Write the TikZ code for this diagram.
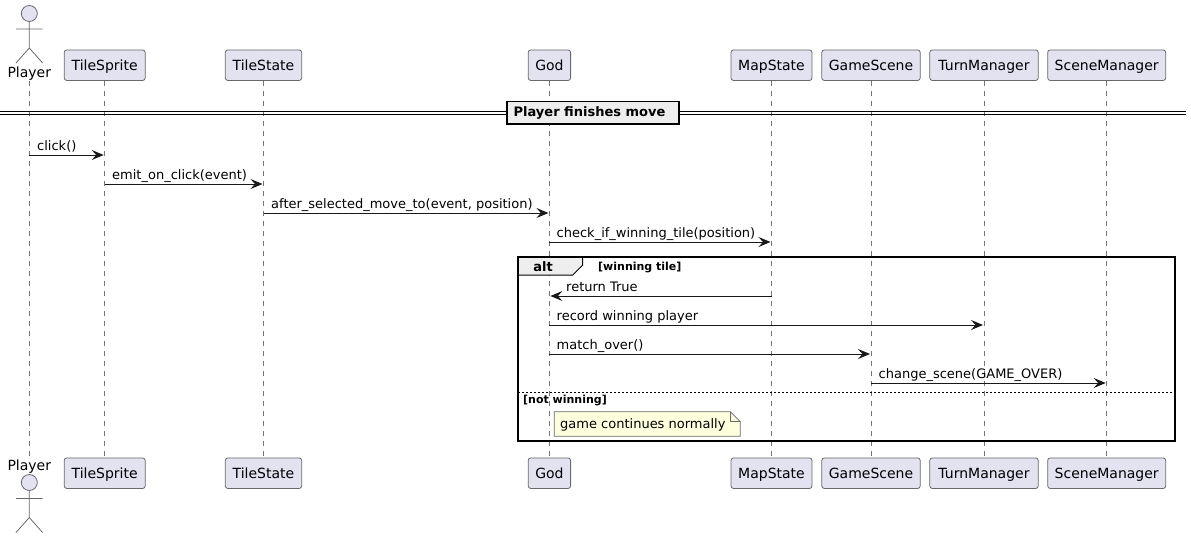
\documentclass[tikz,border=0pt]{standalone}
\usepackage{fontspec}
\setmainfont{DejaVu Sans}
\usetikzlibrary{arrows.meta}
\definecolor{partfill}{HTML}{E2E2F0}
\definecolor{partline}{HTML}{181818}
\definecolor{notefill}{HTML}{FEFFDD}
\definecolor{tabfill}{HTML}{EEEEEE}

\begin{document}
\begin{tikzpicture}[x=1pt, y=-1pt, font=\fontsize{13}{15}\selectfont,
    part/.style={rectangle, rounded corners=2.5pt, draw=partline!65, fill=partfill,
      line width=0.8pt, minimum height=30.5pt, inner sep=0pt, text=black,
      text height=12.6pt, text depth=3pt, font=\fontsize{14}{16}\selectfont},
    actorlabel/.style={minimum height=16pt, inner sep=0pt, text=black,
      text height=12.6pt, text depth=3pt, font=\fontsize{14}{16}\selectfont},
    stick/.style={draw=partline!65, line width=0.8pt},
    life/.style={draw=partline!60, line width=0.8pt, dash pattern=on 5pt off 5pt},
    msg/.style={draw=partline, line width=1pt, shorten >=1pt,
      -{Stealth[length=12pt,width=10pt,inset=4.5pt]}},
    msglabel/.style={anchor=base west, inner sep=0pt, text=black},
    tag/.style={anchor=base west, inner sep=0pt, font=\fontsize{11}{13}\bfseries\selectfont}]
  \useasboundingbox (0,0) rectangle (1191,538);

  \node[actorlabel] (PlayerTop) at (29.3,72.7) {Player};
  \node[part,minimum width=81pt] (SpriteTop) at (104.7,65.2) {TileSprite};
  \node[part,minimum width=76.4pt] (StateTop) at (263.5,65.2) {TileState};
  \node[part,minimum width=42.4pt] (GodTop) at (549.4,65.2) {God};
  \node[part,minimum width=81pt] (MapTop) at (771.5,65.2) {MapState};
  \node[part,minimum width=98.4pt] (SceneTop) at (871,65.2) {GameScene};
  \node[part,minimum width=108.4pt] (TurnTop) at (984,65.2) {TurnManager};
  \node[part,minimum width=118pt] (ManagerTop) at (1106.7,65.2) {SceneManager};

  \node[actorlabel] (PlayerBot) at (29.3,465.9) {Player};
  \node[part,minimum width=81pt] (SpriteBot) at (104.7,473.2) {TileSprite};
  \node[part,minimum width=76.4pt] (StateBot) at (263.5,473.2) {TileState};
  \node[part,minimum width=42.4pt] (GodBot) at (549.4,473.2) {God};
  \node[part,minimum width=81pt] (MapBot) at (771.5,473.2) {MapState};
  \node[part,minimum width=98.4pt] (SceneBot) at (871,473.2) {GameScene};
  \node[part,minimum width=108.4pt] (TurnBot) at (984,473.2) {TurnManager};
  \node[part,minimum width=118pt] (ManagerBot) at (1106.7,473.2) {SceneManager};

  \draw[life] (PlayerTop.south) -- (PlayerBot.north);
  \draw[life] (SpriteTop.south) -- (SpriteBot.north);
  \draw[life] (StateTop.south) -- (StateBot.north);
  \draw[life] (GodTop.south) -- (GodBot.north);
  \draw[life] (MapTop.south) -- (MapBot.north);
  \draw[life] (SceneTop.south) -- (SceneBot.north);
  \draw[life] (TurnTop.south) -- (TurnBot.north);
  \draw[life] (ManagerTop.south) -- (ManagerBot.north);

  % actor figures
  \draw[stick,fill=partfill] (29.3,13.5) circle (8pt);
  \draw[stick] (29.3,21.5) -- (29.3,48) -- (16,63) (29.3,48) -- (42.6,63) (16,29) -- (42.6,29);
  \draw[stick,fill=partfill] (29.3,482.5) circle (8pt);
  \draw[stick] (29.3,490.5) -- (29.3,517.5) -- (16,532.5) (29.3,517.5) -- (42.6,532.5) (16,498.5) -- (42.6,498.5);

  % divider
  \draw[line width=1pt] (0,111) -- (1186,111) (0,114.5) -- (1186,114.5);
  \node[draw,line width=1.5pt,fill=tabfill,minimum width=172pt,minimum height=22.5pt,inner sep=0pt,
    font=\fontsize{13}{15}\bfseries\selectfont] (Divider) at (593,112.5) {Player finishes move\kern7pt};

  % message rows
  \coordinate (r1) at (0,155);
  \coordinate (r2) at (0,184);
  \coordinate (r3) at (0,213);
  \coordinate (r4) at (0,242);
  \coordinate (r5) at (0,296);
  \coordinate (r6) at (0,325);
  \coordinate (r7) at (0,354);
  \coordinate (r8) at (0,383);

  \draw[msg] (PlayerTop |- r1) -- (SpriteTop |- r1);
  \node[msglabel] (m1) at (37,150) {click()};
  \draw[msg] (SpriteTop |- r2) -- (StateTop |- r2);
  \node[msglabel] (m2) at (112,179) {emit\_on\_click(event)};
  \draw[msg] (StateTop |- r3) -- (GodTop |- r3);
  \node[msglabel] (m3) at (271,208) {after\_selected\_move\_to(event, position)};
  \draw[msg] (GodTop |- r4) -- (MapTop |- r4);
  \node[msglabel] (m4) at (556.5,237) {check\_if\_winning\_tile(position)};

  % alt frame
  \draw[line width=1pt,fill=tabfill] (518,257) -- (582.7,257) -- (582.7,265) -- (572.7,275) -- (518,275) -- cycle;
  \node[anchor=base,inner sep=0pt,font=\fontsize{13}{15}\bfseries\selectfont] (AltTag) at (543,271.5) {alt};
  \node[tag] (WinTag) at (598,270) {[winning tile]};
  \draw[line width=1.5pt] (518,257) rectangle (1175,441);
  \draw[msg] (MapTop |- r5) -- (GodTop |- r5);
  \node[msglabel] (m5) at (566,291) {return True};
  \draw[msg] (GodTop |- r6) -- (TurnTop |- r6);
  \node[msglabel] (m6) at (556.5,320) {record winning player};
  \draw[msg] (GodTop |- r7) -- (SceneTop |- r7);
  \node[msglabel] (m7) at (556.5,349) {match\_over()};
  \draw[msg] (SceneTop |- r8) -- (ManagerTop |- r8);
  \node[msglabel] (m8) at (878.5,378) {change\_scene(GAME\_OVER)};
  \draw[line width=0.8pt,dash pattern=on 2pt off 2pt] (518,392.5) -- (1175,392.5);
  \node[tag] (LoseTag) at (523,403) {[not winning]};

  % note
  \draw[draw=partline!65,line width=0.8pt,fill=notefill] (554.3,411.7) -- (730.3,411.7) -- (740.3,421.7) -- (740.3,436.3) -- (554.3,436.3) -- cycle;
  \draw[draw=partline!65,line width=0.8pt] (730.3,411.7) -- (730.3,421.7) -- (740.3,421.7);
  \node[msglabel] (NoteText) at (560,428) {game continues normally};
\end{tikzpicture}
\end{document}
